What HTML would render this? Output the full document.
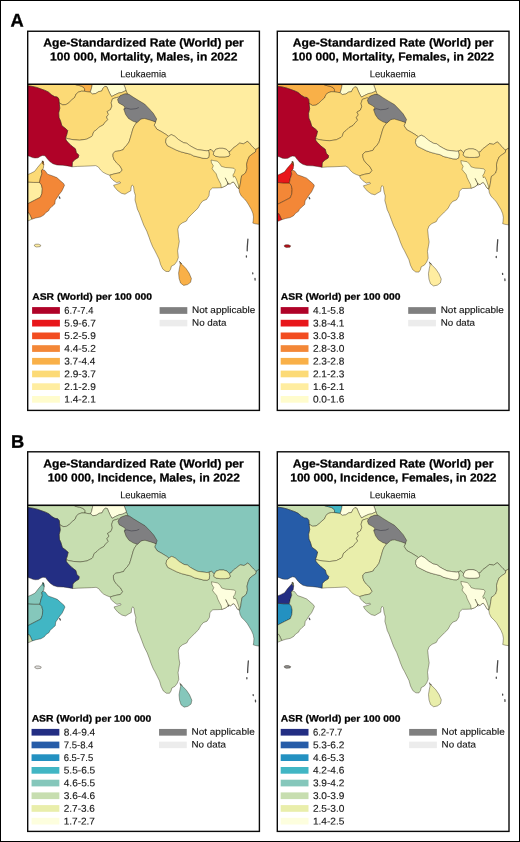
<!DOCTYPE html>
<html lang="en"><head><meta charset="utf-8"><title>Leukaemia ASR maps</title>
<style>html,body{margin:0;padding:0;background:#fff}body{width:520px;height:842px;overflow:hidden;position:relative}svg{position:absolute;left:0;top:0;display:block;will-change:transform}text{font-family:"Liberation Sans",Arial,Helvetica,sans-serif;fill:#141414;stroke:#141414;stroke-width:.13}.b{font-weight:bold;fill:#000;stroke:#000;stroke-width:.25}.c use{stroke:#1a1400;stroke-opacity:.62;stroke-width:.6;stroke-linejoin:round}</style></head><body>
<svg width="520" height="842" viewBox="0 0 520 842">
<rect x="0" y="0" width="520" height="842" fill="#fff"/>
<rect x="0.5" y="0.5" width="519" height="841" fill="none" stroke="#000" stroke-width="1"/>
<text class="b" x="10.5" y="26.6" transform="rotate(.03 10 26)" font-size="18.3" style="fill:#000;stroke:#000;stroke-width:.35">A</text>
<text class="b" x="11" y="447.8" transform="rotate(.03 11 447)" font-size="18.3" style="fill:#000;stroke:#000;stroke-width:.35">B</text>
<defs>
<clipPath id="mc"><rect x="27.7" y="84.9" width="231.7" height="325.5"/></clipPath>
<path id="gCHN" d="M123.8,84.0L262.0,84.0L262.0,147.0L258.0,148.0L256.0,149.3L255.2,149.3L253.1,147.3L251.4,145.5L249.2,142.8L247.3,141.4L243.6,143.8L239.7,143.1L236.3,145.8L232.9,148.3L230.5,151.2L228.8,151.7L226.5,149.4L223.1,148.3L219.0,148.3L215.6,149.4L213.8,152.3L212.7,151.2L211.0,149.4L208.5,150.5L206.5,150.8L201.9,150.2L197.3,149.6L193.8,147.9L189.8,145.6L186.9,143.3L183.5,142.7L178.8,139.8L174.8,136.3L171.3,134.6L168.5,136.3L166.2,134.6L161.5,131.7L156.9,129.2L154.2,125.2L155.6,121.9L140.0,105.0L127.3,93.8L126.0,90.5L125.0,87.4L124.2,85.5L123.8,84.0Z"/>
<path id="gTKM" d="M27.0,84.0L27.0,85.6L29.5,86.0L32.2,86.4L36.5,87.4L40.5,88.8L45.0,90.4L48.3,92.0L51.5,94.8L54.5,96.6L57.3,97.0L58.9,99.0L59.2,102.9L62.7,104.9L66.0,104.6L68.9,102.7L71.8,99.8L74.7,97.4L76.1,94.0L78.5,92.1L81.4,91.2L84.6,91.3L84.6,88.8L83.5,87.3L81.5,86.2L78.8,85.4L76.0,84.8L74.0,84.0Z"/>
<path id="gUZB" d="M74.0,84.0L76.0,84.8L78.8,85.4L81.5,86.2L83.5,87.3L84.6,88.8L84.6,91.3L87.5,91.8L90.2,92.1L91.2,89.5L92.0,86.0L92.3,84.0Z"/>
<path id="gTJK" d="M92.3,84.0L92.0,86.0L91.2,89.5L90.2,92.1L92.4,94.0L95.8,93.5L98.7,91.6L101.6,91.1L103.0,88.3L104.9,86.3L106.9,86.8L108.3,90.2L109.8,93.5L111.6,96.6L114.9,94.8L118.8,93.0L121.8,92.5L124.2,91.4L126.0,90.5L125.0,87.4L124.2,85.5L123.8,84.0Z"/>
<path id="gAFG" d="M59.2,102.9L62.7,104.9L66.0,104.6L68.9,102.7L71.8,99.8L74.7,97.4L76.1,94.0L78.5,92.1L81.4,91.2L84.6,91.3L87.5,91.8L90.2,92.1L92.4,94.0L95.8,93.5L98.7,91.6L101.6,91.1L103.0,88.3L104.9,86.3L106.9,86.8L108.3,90.2L109.8,93.5L111.6,96.6L114.9,94.8L118.8,93.0L121.8,92.5L124.2,91.4L126.0,90.5L127.3,93.8L125.0,94.4L123.0,95.2L120.6,96.1L116.6,97.5L112.5,98.8L111.2,102.8L111.9,106.2L110.5,109.6L107.1,111.6L108.5,114.3L106.5,117.0L107.8,119.7L105.1,122.4L103.1,125.0L99.1,127.1L96.4,129.8L93.7,131.8L92.3,135.8L91.3,136.8L86.5,139.2L79.7,140.2L73.0,139.7L68.2,138.8L65.6,137.8L66.8,134.4L67.7,130.6L65.8,128.7L61.9,125.8L60.5,121.0L59.0,117.6L58.7,112.9L59.8,108.2L59.2,102.9Z"/>
<path id="gPAK" d="M65.6,137.8L68.2,138.8L73.0,139.7L79.7,140.2L86.5,139.2L91.3,136.8L92.3,135.8L93.7,131.8L96.4,129.8L99.1,127.1L103.1,125.0L105.1,122.4L107.8,119.7L106.5,117.0L108.5,114.3L107.1,111.6L110.5,109.6L111.9,106.2L111.2,102.8L112.5,98.8L116.6,97.5L117.0,97.3L122.0,100.0L130.0,110.0L134.0,119.0L136.4,122.8L134.2,126.0L132.8,129.2L131.6,133.5L130.3,138.0L129.0,142.0L126.8,145.1L124.5,147.4L123.2,149.7L119.5,150.8L115.2,151.5L113.0,153.6L113.0,156.4L114.0,159.5L116.5,162.8L120.0,166.0L122.2,170.0L120.0,172.7L114.5,173.8L109.8,175.2L106.4,174.0L103.1,172.3L100.4,169.8L98.4,167.0L95.7,165.6L91.0,165.9L84.2,166.2L77.5,166.4L72.1,166.8L72.4,162.3L74.4,159.9L78.3,157.5L78.8,155.1L76.4,152.7L75.4,148.8L71.1,145.5L67.7,142.1L66.0,140.0L65.6,137.8Z"/>
<path id="gIND" d="M136.4,122.8L145.0,116.0L155.6,121.9L154.2,125.2L156.9,129.2L161.5,131.7L166.2,134.6L168.5,136.3L166.2,138.7L165.6,142.1L167.3,145.6L171.9,147.9L176.5,150.2L181.2,151.9L185.8,153.1L190.4,154.2L193.8,156.0L198.5,157.1L203.1,158.3L206.5,158.5L208.7,157.5L209.2,154.0L208.5,150.5L211.0,149.4L212.7,151.2L213.8,152.3L213.3,154.6L215.6,156.3L219.6,156.9L224.8,156.9L228.8,156.3L229.8,154.6L228.8,151.7L230.5,151.2L232.9,148.3L236.3,145.8L239.7,143.1L243.6,143.8L247.3,141.4L249.2,142.8L251.4,145.5L253.1,147.3L255.2,149.3L256.0,149.3L255.5,151.9L252.1,154.2L249.3,156.4L247.6,160.4L246.6,164.3L247.0,168.5L245.8,172.5L243.6,174.5L241.6,175.8L240.9,180.0L240.3,184.0L239.6,187.0L239.0,188.8L238.1,188.3L236.9,187.1L235.2,184.2L233.5,181.9L231.7,182.5L230.2,184.2L228.3,183.1L227.1,184.8L224.8,186.3L221.3,187.7L217.2,187.9L212.4,188.0L209.5,190.8L209.0,195.6L206.6,199.4L202.8,200.9L200.4,203.8L198.0,208.1L194.6,211.4L191.2,214.8L187.9,218.2L186.4,221.1L182.1,223.0L179.2,225.4L177.8,229.2L178.2,233.0L178.5,236.7L179.3,241.4L178.5,246.1L177.6,250.9L178.0,254.0L178.3,257.7L176.8,261.5L174.5,264.6L171.4,266.2L170.6,269.2L169.1,271.5L166.0,271.5L162.9,269.2L160.6,264.6L159.1,259.2L156.8,254.6L154.5,250.0L152.7,246.8L150.5,241.5L149.1,237.4L146.8,231.2L143.7,225.1L141.4,218.9L139.1,212.8L137.3,209.0L136.5,205.4L135.0,200.0L135.4,195.4L134.2,191.5L133.5,186.2L132.3,185.0L131.2,186.9L130.8,190.8L128.1,192.3L125.0,194.2L121.4,193.3L117.5,190.5L114.5,187.0L113.6,185.2L116.5,184.4L120.6,183.0L119.9,181.8L116.5,182.6L113.2,180.3L110.5,177.5L109.8,175.2L114.5,173.8L120.0,172.7L122.2,170.0L120.0,166.0L116.5,162.8L114.0,159.5L113.0,156.4L113.0,153.6L115.2,151.5L119.5,150.8L123.2,149.7L124.5,147.4L126.8,145.1L129.0,142.0L130.3,138.0L131.6,133.5L132.8,129.2L134.2,126.0L136.4,122.8Z"/>
<path id="gNPL" d="M168.5,136.3L171.3,134.6L174.8,136.3L178.8,139.8L183.5,142.7L186.9,143.3L189.8,145.6L193.8,147.9L197.3,149.6L201.9,150.2L206.5,150.8L208.5,150.5L209.2,154.0L208.7,157.5L206.5,158.5L203.1,158.3L198.5,157.1L193.8,156.0L190.4,154.2L185.8,153.1L181.2,151.9L176.5,150.2L171.9,147.9L167.3,145.6L165.6,142.1L166.2,138.7L168.5,136.3Z"/>
<path id="gBTN" d="M213.8,152.3L215.6,149.4L219.0,148.3L223.1,148.3L226.5,149.4L228.8,151.7L229.8,154.6L228.8,156.3L224.8,156.9L219.6,156.9L215.6,156.3L213.3,154.6L213.8,152.3Z"/>
<path id="gBGD" d="M211.0,160.0L213.8,160.6L217.3,161.2L219.6,163.5L221.3,166.3L225.4,167.5L230.0,167.8L234.0,168.3L235.2,169.8L234.4,172.7L232.9,175.0L233.5,177.3L234.6,176.2L236.3,179.0L237.5,182.5L238.7,186.0L238.1,188.3L236.9,187.1L235.2,184.2L233.5,181.9L231.7,182.5L230.2,184.2L228.3,183.1L227.1,184.8L224.8,186.3L221.3,187.7L220.8,184.2L219.0,180.8L217.3,177.3L216.2,173.8L213.8,171.0L212.1,168.7L213.3,165.8L211.5,162.9Z"/>
<path id="gMMR" d="M258.0,148.0L262.0,147.0L262.0,225.0L258.6,224.3L255.1,223.8L252.8,223.1L253.2,220.8L253.5,216.9L252.8,213.1L251.2,209.2L248.5,204.6L246.6,201.5L244.3,198.8L241.2,195.8L239.5,192.3L239.0,188.8L239.6,187.0L240.3,184.0L240.9,180.0L241.6,175.8L243.6,174.5L245.8,172.5L247.0,168.5L246.6,164.3L247.6,160.4L249.3,156.4L252.1,154.2L255.5,151.9L256.0,149.3Z"/>
<path id="gLKA" d="M179.8,262.3L182.2,264.6L186.0,268.5L189.1,273.1L191.4,278.5L190.6,282.3L187.5,284.6L183.7,285.4L180.6,283.1L179.1,278.5L178.6,273.1L179.5,267.7L180.2,264.6Z"/>
<path id="gIRN" d="M27.0,85.6L29.5,86.0L32.2,86.4L36.5,87.4L40.5,88.8L45.0,90.4L48.3,92.0L51.5,94.8L54.5,96.6L57.3,97.0L58.9,99.0L59.2,102.9L59.8,108.2L58.7,112.9L59.0,117.6L60.5,121.0L61.9,125.8L65.8,128.7L67.7,130.6L66.8,134.4L65.6,137.8L66.0,140.0L67.7,142.1L71.1,145.5L75.4,148.8L76.4,152.7L78.8,155.1L78.3,157.5L74.4,159.9L72.4,162.3L72.1,166.8L67.5,165.9L62.9,165.3L57.0,165.0L53.0,163.8L49.8,161.6L47.3,158.8L45.0,155.8L42.5,155.5L40.5,156.3L38.0,157.8L35.0,158.0L32.5,157.6L29.5,156.3L27.0,155.6Z"/>
<path id="gSAU" d="M27.0,181.9L33.7,182.4L39.5,182.4L41.4,184.8L42.3,188.7L41.9,193.5L40.4,197.3L34.7,200.2L28.1,203.6L27.0,204.0Z"/>
<path id="gARE" d="M27.0,174.9L30.8,173.3L34.7,171.3L37.5,167.5L40.4,164.1L42.8,161.3L43.8,164.6L43.3,168.5L42.3,169.4L41.4,170.9L41.9,173.8L40.4,178.1L39.5,182.4L33.7,182.4L27.0,181.9Z"/>
<path id="gOMN" d="M42.3,169.4L44.8,170.4L47.6,174.2L52.0,175.7L56.8,177.6L60.1,180.5L63.5,183.4L64.5,185.3L63.0,188.7L61.6,191.5L59.2,194.4L57.7,196.8L55.3,200.2L54.8,204.0L52.0,206.4L49.6,208.8L48.6,210.8L45.7,212.7L43.8,215.1L40.4,217.0L35.6,218.0L31.8,219.2L30.4,216.0L29.0,213.2L27.0,212.5L27.0,204.0L28.1,203.6L34.7,200.2L40.4,197.3L41.9,193.5L42.3,188.7L41.4,184.8L39.5,182.4L40.4,178.1L41.9,173.8L41.4,170.9Z"/>
<path id="gMUS" d="M42.2,161.0L43.2,161.0L43.8,164.6L42.6,164.0Z"/>
<path id="gYEM" d="M27.0,212.5L29.0,213.2L30.4,216.0L31.8,219.2L29.0,220.5L27.0,221.0Z"/>
<path id="gSOC" d="M34.2,245.1L35.8,244.2L38.5,244.2L40.8,245.2L40.2,246.6L36.5,247.0L34.8,246.3Z"/>
<path id="gGREY" d="M117.5,99.6L120.4,95.5L125.0,93.7L129.0,94.3L133.1,97.1L138.8,100.6L144.6,104.0L149.2,108.7L153.3,113.3L156.7,119.0L155.6,121.9L150.4,120.2L144.6,118.5L140.6,119.0L137.1,122.5L133.1,121.3L128.5,118.5L125.6,114.4L123.8,109.2L125.0,106.9L122.7,105.2L118.7,102.9Z"/>
<path id="gRIV" d="M225.4,178.1L226.5,180.5L227.3,181.9L228.1,184.6M179.4,261.6L180.4,262.4L181.4,263.6M42.4,161.2L43.2,162.4"/>
<path id="gLOC" d="M123.9,109.3L126.2,108.1L130.8,109.2L136,108.7L138.8,107.5"/>
<path id="gISL" d="M247.9,239.2L247.6,243L247.3,247L247.2,250.8M246.4,255.8L246.4,257M252.7,272.8L252.8,273.8M255,278.4L255.1,280M59.3,196.9L59.9,198.2"/>
</defs>
<g transform="translate(0.0,0.0)">
<g clip-path="url(#mc)"><g class="c" transform="translate(0.00,0.00)">
<use href="#gCHN" fill="#ffeda0"/>
<use href="#gTKM" fill="#fcda76"/>
<use href="#gUZB" fill="#f9b048"/>
<use href="#gTJK" fill="#fffccd"/>
<use href="#gAFG" fill="#fcda76"/>
<use href="#gPAK" fill="#ffeda0"/>
<use href="#gIND" fill="#fcda76"/>
<use href="#gNPL" fill="#ffeda0"/>
<use href="#gBTN" fill="#ffeda0"/>
<use href="#gBGD" fill="#fffccd"/>
<use href="#gMMR" fill="#f9b048"/>
<use href="#gLKA" fill="#f9b048"/>
<use href="#gIRN" fill="#b00228"/>
<use href="#gSAU" fill="#ffeda0"/>
<use href="#gARE" fill="#fcda76"/>
<use href="#gOMN" fill="#f38737"/>
<use href="#gMUS" fill="#f38737"/>
<use href="#gYEM" fill="#ffeda0"/>
<use href="#gSOC" fill="#ffeda0"/>
<use href="#gGREY" fill="#7f7f81"/>
<use href="#gRIV" fill="none" style="stroke:#2a2410;stroke-width:.9;stroke-opacity:.75;stroke-linecap:round"/>
<use href="#gLOC" fill="none" style="stroke:#3a3a44;stroke-width:.7;stroke-opacity:.8"/>
<use href="#gISL" fill="none" style="stroke:#2a2a2a;stroke-width:1.3;stroke-opacity:.85;stroke-linecap:round"/>
</g></g>
<rect x="27.70" y="31.25" width="231.70" height="379.15" fill="none" stroke="#0a0a0a" stroke-width="1.4"/>
<line x1="27.70" y1="84.30" x2="259.40" y2="84.30" stroke="#0a0a0a" stroke-width="1.4"/>
<text class="b" x="43.24" y="46.40" transform="rotate(.03 43.2 46.4)" font-size="11.6" textLength="200.52" lengthAdjust="spacingAndGlyphs">Age-Standardized Rate (World) per</text>
<text class="b" x="50.02" y="60.40" transform="rotate(.03 50.0 60.4)" font-size="11.6" textLength="187.48" lengthAdjust="spacingAndGlyphs">100 000, Mortality, Males, in 2022</text>
<text x="120.13" y="77.30" transform="rotate(.03 120.1 77.3)" font-size="9.8" textLength="46.11" lengthAdjust="spacingAndGlyphs">Leukaemia</text>
<g transform="translate(0.00,0.00)">
<text class="b" x="32.22" y="299.80" transform="rotate(.03 32.2 299.8)" font-size="9.4" textLength="119.69" lengthAdjust="spacingAndGlyphs">ASR (World) per 100 000</text>
<rect x="32.1" y="307.10" width="27.8" height="6.7" fill="#b00228"/>
<text transform="translate(64.28,313.70) rotate(.03) scale(1.034,1)" font-size="9.8" textLength="28.09" lengthAdjust="spacingAndGlyphs">6.7-7.4</text>
<rect x="32.1" y="319.80" width="27.8" height="6.7" fill="#e8161a"/>
<text transform="translate(64.28,326.40) rotate(.03) scale(1.034,1)" font-size="9.8">5.9-6.7</text>
<rect x="32.1" y="332.50" width="27.8" height="6.7" fill="#f24c20"/>
<text transform="translate(64.28,339.10) rotate(.03) scale(1.034,1)" font-size="9.8">5.2-5.9</text>
<rect x="32.1" y="345.20" width="27.8" height="6.7" fill="#f38737"/>
<text transform="translate(64.28,351.80) rotate(.03) scale(1.034,1)" font-size="9.8">4.4-5.2</text>
<rect x="32.1" y="357.90" width="27.8" height="6.7" fill="#f9b048"/>
<text transform="translate(64.28,364.50) rotate(.03) scale(1.034,1)" font-size="9.8" textLength="30.12" lengthAdjust="spacingAndGlyphs">3.7-4.4</text>
<rect x="32.1" y="370.60" width="27.8" height="6.7" fill="#fcda76"/>
<text transform="translate(64.28,377.20) rotate(.03) scale(1.034,1)" font-size="9.8">2.9-3.7</text>
<rect x="32.1" y="383.30" width="27.8" height="6.7" fill="#ffeda0"/>
<text transform="translate(64.28,389.90) rotate(.03) scale(1.034,1)" font-size="9.8">2.1-2.9</text>
<rect x="32.1" y="396.00" width="27.8" height="6.7" fill="#fffccd"/>
<text transform="translate(64.28,402.60) rotate(.03) scale(1.034,1)" font-size="9.8">1.4-2.1</text>
<g transform="translate(0.00,0)">
<rect x="159.6" y="307.15" width="27.7" height="6.7" fill="#7f7f7f"/>
<rect x="159.6" y="319.85" width="27.7" height="6.5" fill="#ececec"/>
<text x="192.04" y="313.00" transform="rotate(.03 192.0 313.0)" font-size="9.3" textLength="63.26" lengthAdjust="spacingAndGlyphs">Not applicable</text>
<text x="192.06" y="325.70" transform="rotate(.03 192.1 325.7)" font-size="9.3" textLength="34.36" lengthAdjust="spacingAndGlyphs">No data</text>
</g></g>
</g>
<g transform="translate(249.6,0.0)">
<g clip-path="url(#mc)"><g class="c" transform="translate(0.25,0.55)">
<use href="#gCHN" fill="#ffeda0"/>
<use href="#gTKM" fill="#f9b048"/>
<use href="#gUZB" fill="#f9b048"/>
<use href="#gTJK" fill="#fffccd"/>
<use href="#gAFG" fill="#fcda76"/>
<use href="#gPAK" fill="#fcda76"/>
<use href="#gIND" fill="#fcda76"/>
<use href="#gNPL" fill="#fffccd"/>
<use href="#gBTN" fill="#ffeda0"/>
<use href="#gBGD" fill="#fffccd"/>
<use href="#gMMR" fill="#fcda76"/>
<use href="#gLKA" fill="#ffeda0"/>
<use href="#gIRN" fill="#b00228"/>
<use href="#gSAU" fill="#f38737"/>
<use href="#gARE" fill="#e8161a"/>
<use href="#gOMN" fill="#f38737"/>
<use href="#gMUS" fill="#f38737"/>
<use href="#gYEM" fill="#e8161a"/>
<use href="#gSOC" fill="#b5121c"/>
<use href="#gGREY" fill="#7f7f81"/>
<use href="#gRIV" fill="none" style="stroke:#2a2410;stroke-width:.9;stroke-opacity:.75;stroke-linecap:round"/>
<use href="#gLOC" fill="none" style="stroke:#3a3a44;stroke-width:.7;stroke-opacity:.8"/>
<use href="#gISL" fill="none" style="stroke:#2a2a2a;stroke-width:1.3;stroke-opacity:.85;stroke-linecap:round"/>
</g></g>
<rect x="27.70" y="31.25" width="231.70" height="379.15" fill="none" stroke="#0a0a0a" stroke-width="1.4"/>
<line x1="27.70" y1="84.30" x2="259.40" y2="84.30" stroke="#0a0a0a" stroke-width="1.4"/>
<text class="b" x="43.24" y="46.40" transform="rotate(.03 43.2 46.4)" font-size="11.6" textLength="200.52" lengthAdjust="spacingAndGlyphs">Age-Standardized Rate (World) per</text>
<text class="b" x="42.42" y="60.40" transform="rotate(.03 42.4 60.4)" font-size="11.6" textLength="202.00" lengthAdjust="spacingAndGlyphs">100 000, Mortality, Females, in 2022</text>
<text x="120.13" y="77.30" transform="rotate(.03 120.1 77.3)" font-size="9.8" textLength="46.11" lengthAdjust="spacingAndGlyphs">Leukaemia</text>
<g transform="translate(-1.00,0.00)">
<text class="b" x="32.22" y="299.80" transform="rotate(.03 32.2 299.8)" font-size="9.4" textLength="119.69" lengthAdjust="spacingAndGlyphs">ASR (World) per 100 000</text>
<rect x="32.1" y="307.10" width="27.8" height="6.7" fill="#b00228"/>
<text transform="translate(64.28,313.70) rotate(.03) scale(1.034,1)" font-size="9.8">4.1-5.8</text>
<rect x="32.1" y="319.80" width="27.8" height="6.7" fill="#e8161a"/>
<text transform="translate(64.28,326.40) rotate(.03) scale(1.034,1)" font-size="9.8">3.8-4.1</text>
<rect x="32.1" y="332.50" width="27.8" height="6.7" fill="#f24c20"/>
<text transform="translate(64.28,339.10) rotate(.03) scale(1.034,1)" font-size="9.8">3.0-3.8</text>
<rect x="32.1" y="345.20" width="27.8" height="6.7" fill="#f38737"/>
<text transform="translate(64.28,351.80) rotate(.03) scale(1.034,1)" font-size="9.8">2.8-3.0</text>
<rect x="32.1" y="357.90" width="27.8" height="6.7" fill="#f9b048"/>
<text transform="translate(64.28,364.50) rotate(.03) scale(1.034,1)" font-size="9.8">2.3-2.8</text>
<rect x="32.1" y="370.60" width="27.8" height="6.7" fill="#fcda76"/>
<text transform="translate(64.28,377.20) rotate(.03) scale(1.034,1)" font-size="9.8">2.1-2.3</text>
<rect x="32.1" y="383.30" width="27.8" height="6.7" fill="#ffeda0"/>
<text transform="translate(64.28,389.90) rotate(.03) scale(1.034,1)" font-size="9.8">1.6-2.1</text>
<rect x="32.1" y="396.00" width="27.8" height="6.7" fill="#fffccd"/>
<text transform="translate(64.28,402.60) rotate(.03) scale(1.034,1)" font-size="9.8">0.0-1.6</text>
<g transform="translate(0.00,0)">
<rect x="159.6" y="307.15" width="27.7" height="6.7" fill="#7f7f7f"/>
<rect x="159.6" y="319.85" width="27.7" height="6.5" fill="#ececec"/>
<text x="192.04" y="313.00" transform="rotate(.03 192.0 313.0)" font-size="9.3" textLength="63.26" lengthAdjust="spacingAndGlyphs">Not applicable</text>
<text x="192.06" y="325.70" transform="rotate(.03 192.1 325.7)" font-size="9.3" textLength="34.36" lengthAdjust="spacingAndGlyphs">No data</text>
</g></g>
</g>
<g transform="translate(0.0,421.0)">
<g clip-path="url(#mc)"><g class="c" transform="translate(0.45,0.75)">
<use href="#gCHN" fill="#85c7bb"/>
<use href="#gTKM" fill="#c7deb0"/>
<use href="#gUZB" fill="#c7deb0"/>
<use href="#gTJK" fill="#fdfede"/>
<use href="#gAFG" fill="#c7deb0"/>
<use href="#gPAK" fill="#c7deb0"/>
<use href="#gIND" fill="#c7deb0"/>
<use href="#gNPL" fill="#e9eeab"/>
<use href="#gBTN" fill="#e9eeab"/>
<use href="#gBGD" fill="#fdfede"/>
<use href="#gMMR" fill="#85c7bb"/>
<use href="#gLKA" fill="#85c7bb"/>
<use href="#gIRN" fill="#232e83"/>
<use href="#gSAU" fill="#85c7bb"/>
<use href="#gARE" fill="#85c7bb"/>
<use href="#gOMN" fill="#41b6c4"/>
<use href="#gMUS" fill="#41b6c4"/>
<use href="#gYEM" fill="#c7deb0"/>
<use href="#gSOC" fill="#e0e0e0"/>
<use href="#gGREY" fill="#7f7f81"/>
<use href="#gRIV" fill="none" style="stroke:#2a2410;stroke-width:.9;stroke-opacity:.75;stroke-linecap:round"/>
<use href="#gLOC" fill="none" style="stroke:#3a3a44;stroke-width:.7;stroke-opacity:.8"/>
<use href="#gISL" fill="none" style="stroke:#2a2a2a;stroke-width:1.3;stroke-opacity:.85;stroke-linecap:round"/>
</g></g>
<rect x="27.70" y="30.80" width="231.70" height="379.60" fill="none" stroke="#0a0a0a" stroke-width="1.4"/>
<line x1="27.70" y1="84.30" x2="259.40" y2="84.30" stroke="#0a0a0a" stroke-width="1.4"/>
<text class="b" x="43.24" y="46.40" transform="rotate(.03 43.2 46.4)" font-size="11.6" textLength="200.52" lengthAdjust="spacingAndGlyphs">Age-Standardized Rate (World) per</text>
<text class="b" x="47.73" y="60.40" transform="rotate(.03 47.7 60.4)" font-size="11.6" textLength="192.11" lengthAdjust="spacingAndGlyphs">100 000, Incidence, Males, in 2022</text>
<text x="120.13" y="77.30" transform="rotate(.03 120.1 77.3)" font-size="9.8" textLength="46.11" lengthAdjust="spacingAndGlyphs">Leukaemia</text>
<g transform="translate(-0.55,0.80)">
<text class="b" x="32.22" y="299.80" transform="rotate(.03 32.2 299.8)" font-size="9.4" textLength="119.69" lengthAdjust="spacingAndGlyphs">ASR (World) per 100 000</text>
<rect x="32.1" y="307.10" width="27.8" height="6.7" fill="#232e83"/>
<text transform="translate(64.28,313.70) rotate(.03) scale(1.034,1)" font-size="9.8">8.4-9.4</text>
<rect x="32.1" y="319.80" width="27.8" height="6.7" fill="#265ca8"/>
<text transform="translate(64.28,326.40) rotate(.03) scale(1.034,1)" font-size="9.8" textLength="28.67" lengthAdjust="spacingAndGlyphs">7.5-8.4</text>
<rect x="32.1" y="332.50" width="27.8" height="6.7" fill="#2391c1"/>
<text transform="translate(64.28,339.10) rotate(.03) scale(1.034,1)" font-size="9.8" textLength="28.48" lengthAdjust="spacingAndGlyphs">6.5-7.5</text>
<rect x="32.1" y="345.20" width="27.8" height="6.7" fill="#41b6c4"/>
<text transform="translate(64.28,351.80) rotate(.03) scale(1.034,1)" font-size="9.8">5.5-6.5</text>
<rect x="32.1" y="357.90" width="27.8" height="6.7" fill="#85c7bb"/>
<text transform="translate(64.28,364.50) rotate(.03) scale(1.034,1)" font-size="9.8">4.6-5.5</text>
<rect x="32.1" y="370.60" width="27.8" height="6.7" fill="#c7deb0"/>
<text transform="translate(64.28,377.20) rotate(.03) scale(1.034,1)" font-size="9.8">3.6-4.6</text>
<rect x="32.1" y="383.30" width="27.8" height="6.7" fill="#e9eeab"/>
<text transform="translate(64.28,389.90) rotate(.03) scale(1.034,1)" font-size="9.8" textLength="30.12" lengthAdjust="spacingAndGlyphs">2.7-3.6</text>
<rect x="32.1" y="396.00" width="27.8" height="6.7" fill="#fdfede"/>
<text transform="translate(64.28,402.60) rotate(.03) scale(1.034,1)" font-size="9.8" textLength="30.12" lengthAdjust="spacingAndGlyphs">1.7-2.7</text>
<g transform="translate(0.00,0)">
<rect x="159.6" y="307.15" width="27.7" height="6.7" fill="#7f7f7f"/>
<rect x="159.6" y="319.85" width="27.7" height="6.5" fill="#ececec"/>
<text x="192.04" y="313.00" transform="rotate(.03 192.0 313.0)" font-size="9.3" textLength="63.26" lengthAdjust="spacingAndGlyphs">Not applicable</text>
<text x="192.06" y="325.70" transform="rotate(.03 192.1 325.7)" font-size="9.3" textLength="34.36" lengthAdjust="spacingAndGlyphs">No data</text>
</g></g>
</g>
<g transform="translate(249.6,421.0)">
<g clip-path="url(#mc)"><g class="c" transform="translate(0.30,0.35)">
<use href="#gCHN" fill="#c7deb0"/>
<use href="#gTKM" fill="#c7deb0"/>
<use href="#gUZB" fill="#41b6c4"/>
<use href="#gTJK" fill="#fdfede"/>
<use href="#gAFG" fill="#e9eeab"/>
<use href="#gPAK" fill="#e9eeab"/>
<use href="#gIND" fill="#c7deb0"/>
<use href="#gNPL" fill="#fdfede"/>
<use href="#gBTN" fill="#fdfede"/>
<use href="#gBGD" fill="#fdfede"/>
<use href="#gMMR" fill="#e9eeab"/>
<use href="#gLKA" fill="#e9eeab"/>
<use href="#gIRN" fill="#265ca8"/>
<use href="#gSAU" fill="#2391c1"/>
<use href="#gARE" fill="#232e83"/>
<use href="#gOMN" fill="#c7deb0"/>
<use href="#gMUS" fill="#c7deb0"/>
<use href="#gYEM" fill="#c7deb0"/>
<use href="#gSOC" fill="#8c8c8c"/>
<use href="#gGREY" fill="#7f7f81"/>
<use href="#gRIV" fill="none" style="stroke:#2a2410;stroke-width:.9;stroke-opacity:.75;stroke-linecap:round"/>
<use href="#gLOC" fill="none" style="stroke:#3a3a44;stroke-width:.7;stroke-opacity:.8"/>
<use href="#gISL" fill="none" style="stroke:#2a2a2a;stroke-width:1.3;stroke-opacity:.85;stroke-linecap:round"/>
</g></g>
<rect x="27.70" y="30.80" width="231.70" height="379.60" fill="none" stroke="#0a0a0a" stroke-width="1.4"/>
<line x1="27.70" y1="84.30" x2="259.40" y2="84.30" stroke="#0a0a0a" stroke-width="1.4"/>
<text class="b" x="43.24" y="46.40" transform="rotate(.03 43.2 46.4)" font-size="11.6" textLength="200.52" lengthAdjust="spacingAndGlyphs">Age-Standardized Rate (World) per</text>
<text class="b" x="40.73" y="60.40" transform="rotate(.03 40.7 60.4)" font-size="11.6" textLength="206.12" lengthAdjust="spacingAndGlyphs">100 000, Incidence, Females, in 2022</text>
<text x="120.13" y="77.30" transform="rotate(.03 120.1 77.3)" font-size="9.8" textLength="46.11" lengthAdjust="spacingAndGlyphs">Leukaemia</text>
<g transform="translate(-1.00,0.80)">
<text class="b" x="32.22" y="299.80" transform="rotate(.03 32.2 299.8)" font-size="9.4" textLength="119.69" lengthAdjust="spacingAndGlyphs">ASR (World) per 100 000</text>
<rect x="32.1" y="307.10" width="27.8" height="6.7" fill="#232e83"/>
<text transform="translate(64.28,313.70) rotate(.03) scale(1.034,1)" font-size="9.8" textLength="28.48" lengthAdjust="spacingAndGlyphs">6.2-7.7</text>
<rect x="32.1" y="319.80" width="27.8" height="6.7" fill="#265ca8"/>
<text transform="translate(64.28,326.40) rotate(.03) scale(1.034,1)" font-size="9.8">5.3-6.2</text>
<rect x="32.1" y="332.50" width="27.8" height="6.7" fill="#2391c1"/>
<text transform="translate(64.28,339.10) rotate(.03) scale(1.034,1)" font-size="9.8">4.6-5.3</text>
<rect x="32.1" y="345.20" width="27.8" height="6.7" fill="#41b6c4"/>
<text transform="translate(64.28,351.80) rotate(.03) scale(1.034,1)" font-size="9.8">4.2-4.6</text>
<rect x="32.1" y="357.90" width="27.8" height="6.7" fill="#85c7bb"/>
<text transform="translate(64.28,364.50) rotate(.03) scale(1.034,1)" font-size="9.8">3.9-4.2</text>
<rect x="32.1" y="370.60" width="27.8" height="6.7" fill="#c7deb0"/>
<text transform="translate(64.28,377.20) rotate(.03) scale(1.034,1)" font-size="9.8">3.0-3.9</text>
<rect x="32.1" y="383.30" width="27.8" height="6.7" fill="#e9eeab"/>
<text transform="translate(64.28,389.90) rotate(.03) scale(1.034,1)" font-size="9.8">2.5-3.0</text>
<rect x="32.1" y="396.00" width="27.8" height="6.7" fill="#fdfede"/>
<text transform="translate(64.28,402.60) rotate(.03) scale(1.034,1)" font-size="9.8">1.4-2.5</text>
<g transform="translate(0.95,0)">
<rect x="159.6" y="307.15" width="27.7" height="6.7" fill="#7f7f7f"/>
<rect x="159.6" y="319.85" width="27.7" height="6.5" fill="#ececec"/>
<text x="192.04" y="313.00" transform="rotate(.03 192.0 313.0)" font-size="9.3" textLength="63.26" lengthAdjust="spacingAndGlyphs">Not applicable</text>
<text x="192.06" y="325.70" transform="rotate(.03 192.1 325.7)" font-size="9.3" textLength="34.36" lengthAdjust="spacingAndGlyphs">No data</text>
</g></g>
</g>
</svg></body></html>
